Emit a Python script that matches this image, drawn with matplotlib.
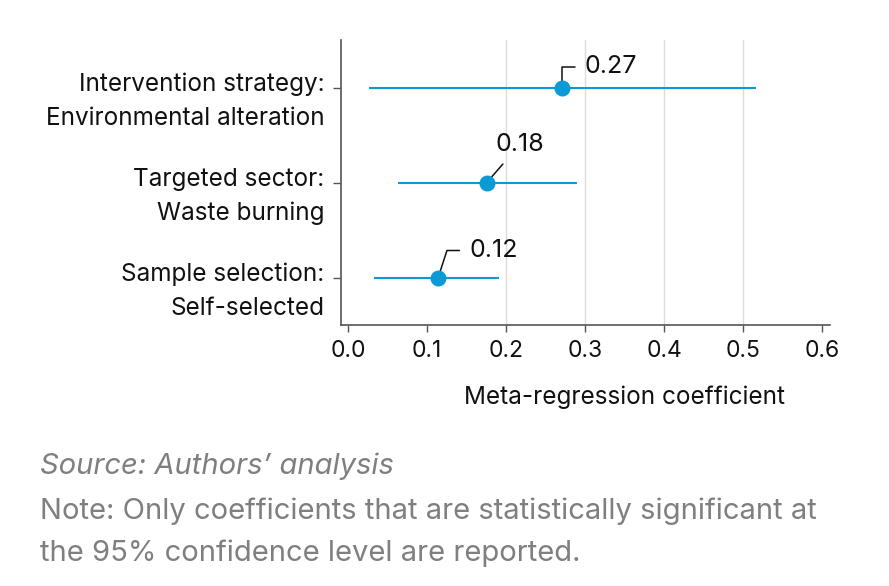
import matplotlib
matplotlib.use("Agg")
import matplotlib.pyplot as plt
from matplotlib.transforms import offset_copy

# Data
labels = ["Intervention strategy:\nEnvironmental alteration",
          "Targeted sector:\nWaste burning",
          "Sample selection:\nSelf-selected"]
coef = [0.2705, 0.1756, 0.114]
ci_low = [0.027, 0.063, 0.033]
ci_high = [0.516, 0.2895, 0.191]
value_text = ["0.27", "0.18", "0.12"]
xticks = [0.0, 0.1, 0.2, 0.3, 0.4, 0.5, 0.6]
grid_at = [0.2, 0.3, 0.4, 0.5]

blue = "#0a9bd6"
dark = "#111111"
grey = "#7f7f7f"
plt.rcParams['font.family'] = ['Inter', 'DejaVu Sans']

fig = plt.figure(figsize=(8.89, 5.86), dpi=100)
ax = fig.add_axes([0.3836, 0.4454, 0.550, 0.4863])

ypos = list(range(len(labels)))
for y, c, lo, hi in zip(ypos, coef, ci_low, ci_high):
    ax.plot([lo, hi], [y, y], color=blue, lw=1.5, solid_capstyle='butt', zorder=3)
    ax.plot(c, y, 'o', color=blue, ms=10.5, zorder=4)

# value labels with leader lines
ann = [
    dict(xytext=(23, 21), cs="angle,angleA=0,angleB=90,rad=0", ha='left', va='center'),
    dict(xytext=(33, 38), cs="arc3", ha='center', va='center'),
    dict(xytext=(31, 27), cs="angle,angleA=0,angleB=72,rad=0", ha='left', va='center'),
]
for y, c, t, a in zip(ypos, coef, value_text, ann):
    ax.annotate(t, xy=(c, y), xytext=a['xytext'], textcoords='offset pixels',
                ha=a['ha'], va=a['va'], fontsize=18, color=dark,
                arrowprops=dict(arrowstyle='-', color=dark, lw=1.1,
                                connectionstyle=a['cs'], shrinkA=5, shrinkB=4))

ax.set_xlim(-0.009, 0.610)
ax.set_ylim(2.5, -0.5)
ax.set_xticks(xticks)
ax.set_xticklabels([f"{v:.1f}" for v in xticks], fontsize=16.5, color=dark)
ax.set_yticks(ypos)
ax.set_yticklabels([])

# two-line category labels: first line at the tick, second line below
ytrans = ax.get_yaxis_transform()
line1 = offset_copy(ytrans, fig=fig, x=0, y=3, units='dots')
line2 = offset_copy(ytrans, fig=fig, x=0, y=-31, units='dots')
for y, lab in zip(ypos, labels):
    first, second = lab.split("\n")
    ax.text(-0.034, y, first, transform=line1, ha='right', va='center',
            fontsize=17.5, color=dark)
    ax.text(-0.034, y, second, transform=line2, ha='right', va='center',
            fontsize=17.5, color=dark)

for gx in grid_at:
    ax.axvline(gx, color="#dcdcdc", lw=1, zorder=0)

for s in ['top', 'right']:
    ax.spines[s].set_visible(False)
for s in ['left', 'bottom']:
    ax.spines[s].set_color("#555555")
    ax.spines[s].set_linewidth(1.2)
ax.tick_params(axis='both', color="#555555", length=5, width=1)
ax.tick_params(axis='y', length=6)
ax.tick_params(axis='x', pad=6)

ax.set_xlabel("Meta-regression coefficient", fontsize=17.5, color=dark)
ax.xaxis.set_label_coords(0.58, -0.214)

fig.text(40 / 889, 1 - 466 / 586, "Source: Authors\u2019 analysis", fontsize=21,
         style='italic', color=grey, va='center', ha='left')
fig.text(40 / 889, 1 - 511 / 586,
         "Note: Only coefficients that are statistically significant at",
         fontsize=21, color=grey, va='center', ha='left')
fig.text(40 / 889, 1 - 553 / 586, "the 95% confidence level are reported.",
         fontsize=21, color=grey, va='center', ha='left')

fig.savefig("out.png", dpi=100)
